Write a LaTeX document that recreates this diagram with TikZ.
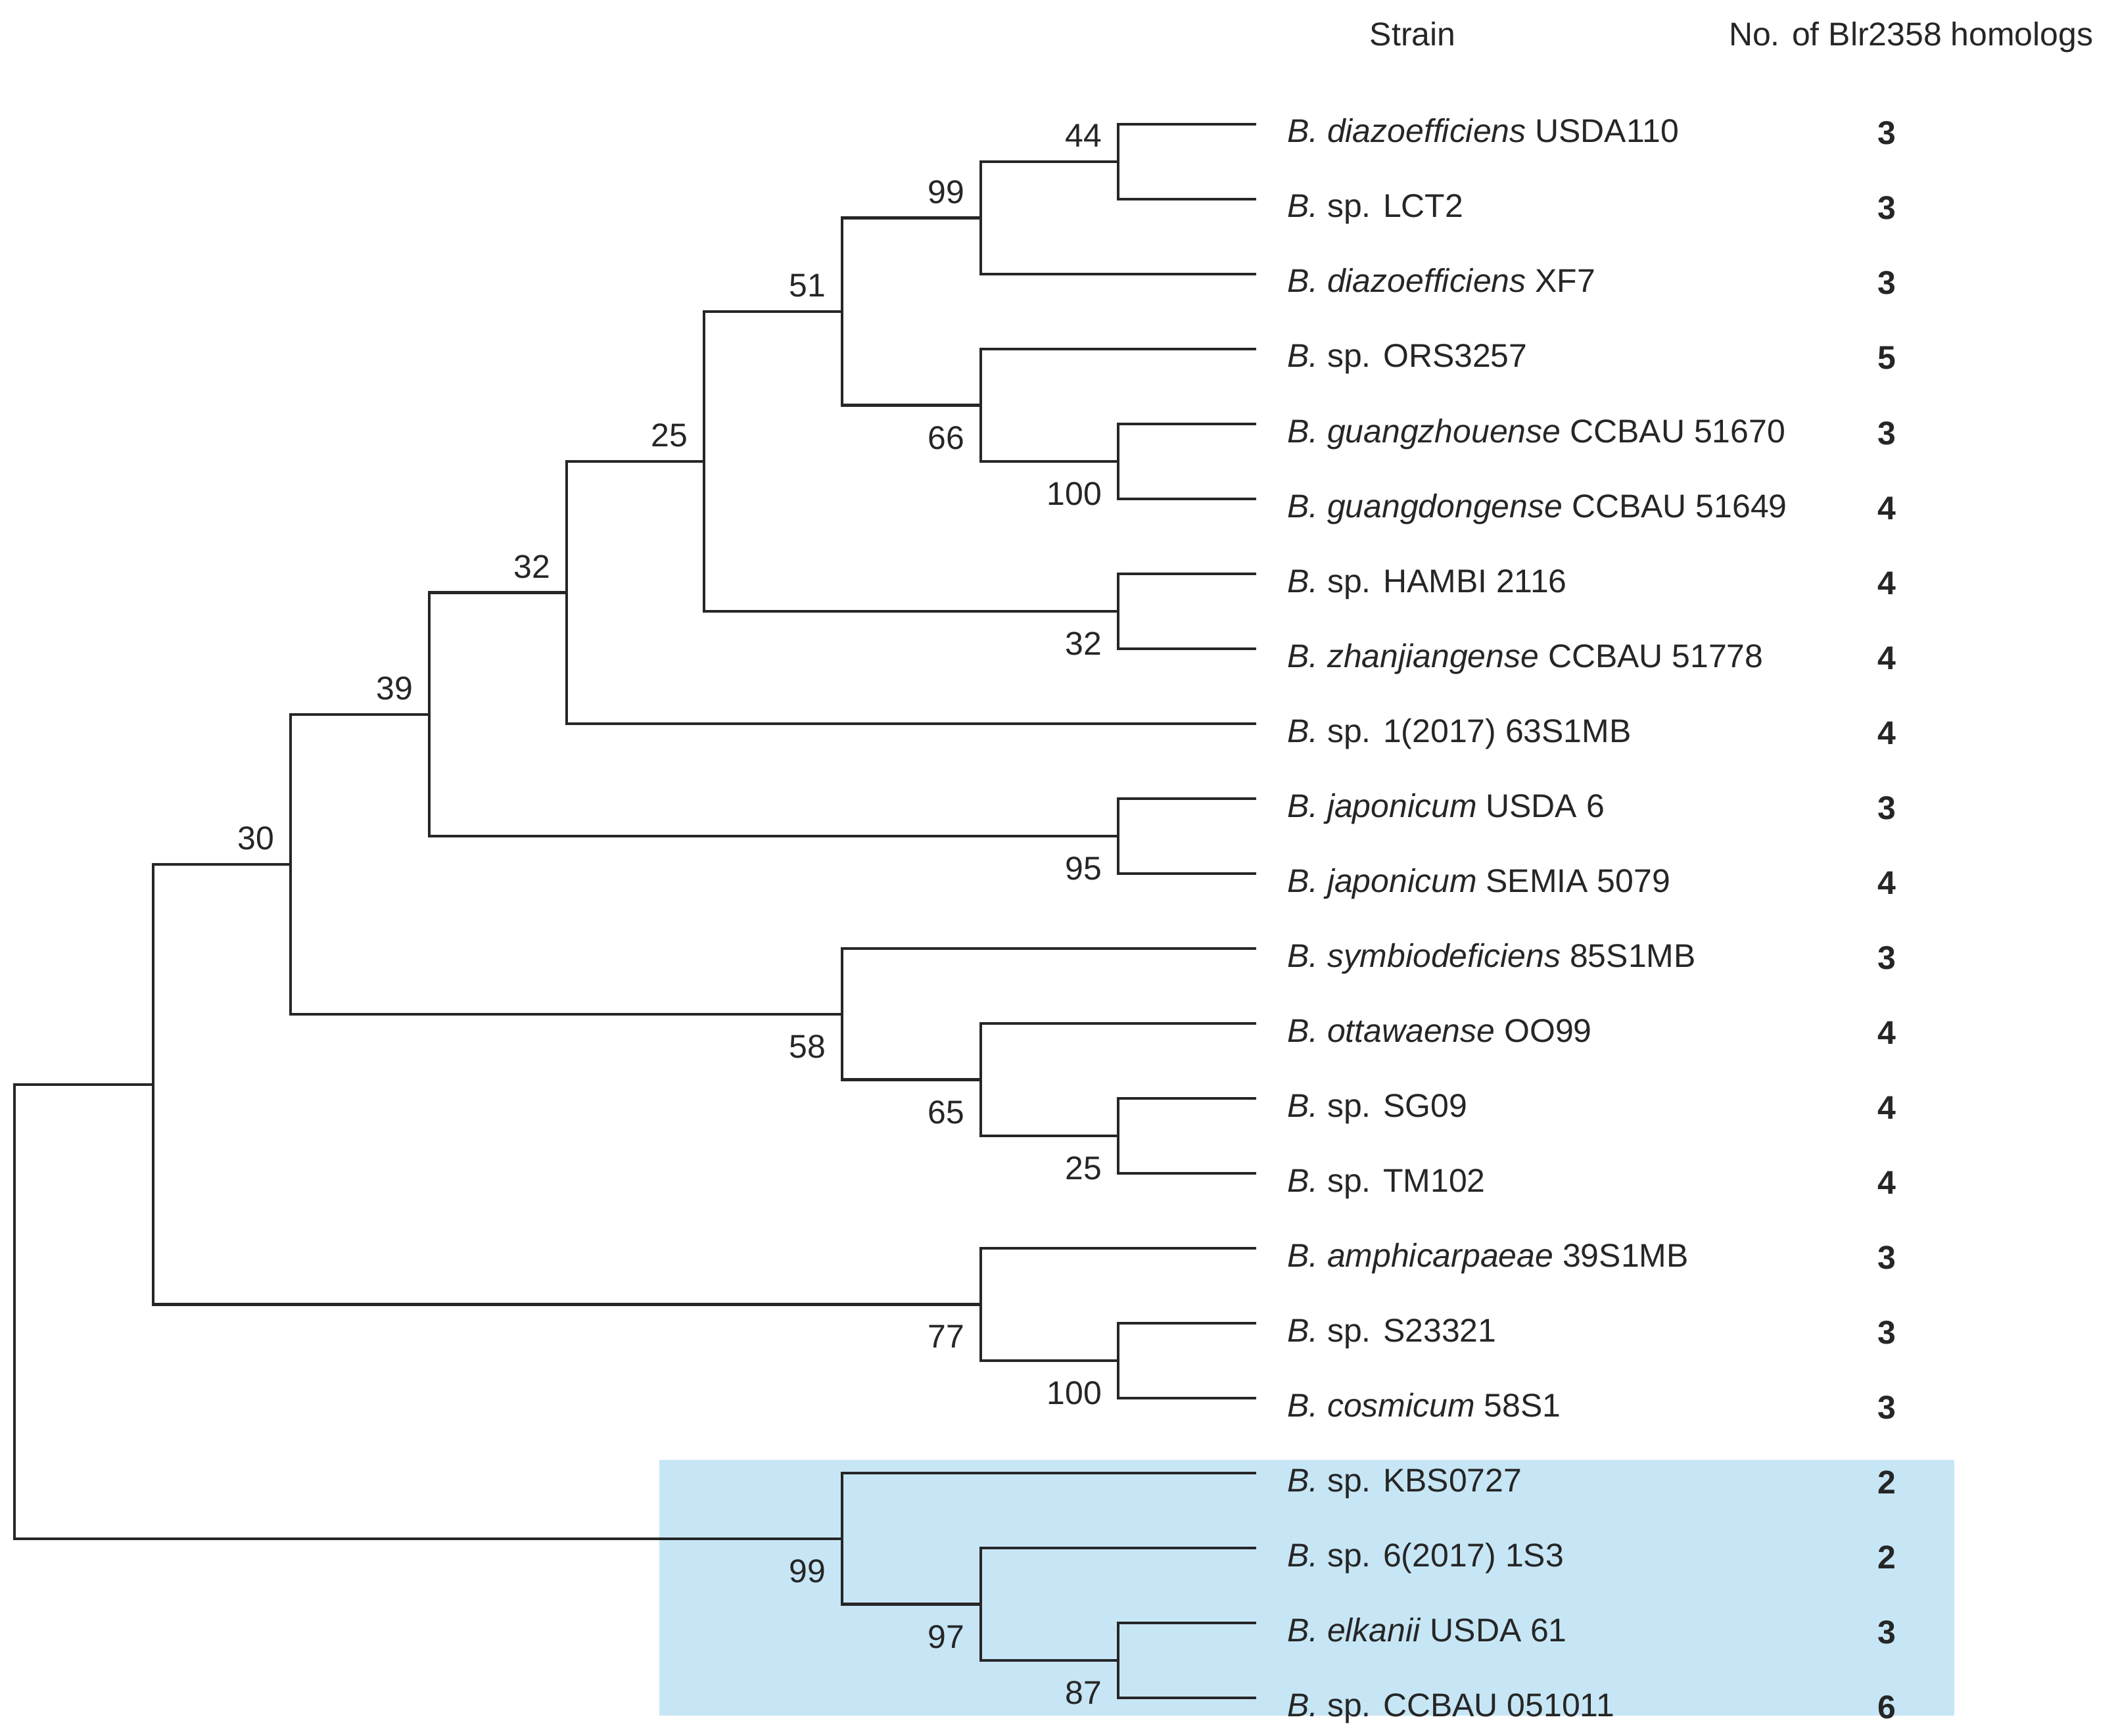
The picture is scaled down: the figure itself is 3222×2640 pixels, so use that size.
\documentclass[tikz,border=0pt]{standalone}
\usepackage{fontspec}
\setmainfont{Liberation Sans}
\usetikzlibrary{calc}
\definecolor{clade}{RGB}{199,230,245}
\definecolor{branch}{RGB}{38,38,40}
\begin{document}
\begin{tikzpicture}[x=0.01cm,y=-0.01cm,
  every node/.style={inner sep=0pt,outer sep=0pt,font=\fontsize{14.2}{17}\selectfont,text=black!85},
  br/.style={draw=branch,line width=1.2pt,line join=miter},
  leaflab/.style={anchor=base west},
  countlab/.style={anchor=base,font=\fontsize{14.2}{17}\selectfont\bfseries},
  supabove/.style={anchor=south east},
  supbelow/.style={anchor=north east}]
\useasboundingbox (0,0) rectangle (3222,2640);
\fill[white] (0,0) rectangle (3222,2640);
% highlighted clade
\fill[clade] (1003,2221) rectangle (2973,2610);
% leaves
\foreach \i in {1,...,22}{\coordinate (L\i) at (1911,{189+114*(\i-1)});}
% internal nodes
\coordinate (n44)   at (1701,246);
\coordinate (n99a)  at (1492,331.5);
\coordinate (n100a) at (1701,702);
\coordinate (n66)   at (1492,616.5);
\coordinate (n51)   at (1281,474);
\coordinate (n32a)  at (1701,930);
\coordinate (n25a)  at (1071,702);
\coordinate (n32b)  at (862,901.5);
\coordinate (n95)   at (1701,1272);
\coordinate (n39)   at (653,1086.7);
\coordinate (n25b)  at (1701,1728);
\coordinate (n65)   at (1492,1642.5);
\coordinate (n58)   at (1281,1542.7);
\coordinate (n30)   at (442,1314.7);
\coordinate (n100b) at (1701,2070);
\coordinate (n77)   at (1492,1984.5);
\coordinate (nA)    at (233,1649.6);
\coordinate (n87)   at (1701,2526);
\coordinate (n97)   at (1492,2440.5);
\coordinate (n99b)  at (1281,2340.7);
\coordinate (root)  at (22,1995);
% branches
\draw[br] (n44) |- (L1);  \draw[br] (n44) |- (L2);
\draw[br] (n99a) |- (n44); \draw[br] (n99a) |- (L3);
\draw[br] (n100a) |- (L5); \draw[br] (n100a) |- (L6);
\draw[br] (n66) |- (L4); \draw[br] (n66) |- (n100a);
\draw[br] (n51) |- (n99a); \draw[br] (n51) |- (n66);
\draw[br] (n32a) |- (L7); \draw[br] (n32a) |- (L8);
\draw[br] (n25a) |- (n51); \draw[br] (n25a) |- (n32a);
\draw[br] (n32b) |- (n25a); \draw[br] (n32b) |- (L9);
\draw[br] (n95) |- (L10); \draw[br] (n95) |- (L11);
\draw[br] (n39) |- (n32b); \draw[br] (n39) |- (n95);
\draw[br] (n25b) |- (L14); \draw[br] (n25b) |- (L15);
\draw[br] (n65) |- (L13); \draw[br] (n65) |- (n25b);
\draw[br] (n58) |- (L12); \draw[br] (n58) |- (n65);
\draw[br] (n30) |- (n39); \draw[br] (n30) |- (n58);
\draw[br] (n100b) |- (L17); \draw[br] (n100b) |- (L18);
\draw[br] (n77) |- (L16); \draw[br] (n77) |- (n100b);
\draw[br] (nA) |- (n30); \draw[br] (nA) |- (n77);
\draw[br] (n87) |- (L21); \draw[br] (n87) |- (L22);
\draw[br] (n97) |- (L20); \draw[br] (n97) |- (n87);
\draw[br] (n99b) |- (L19); \draw[br] (n99b) |- (n97);
\draw[br] (root) |- (nA); \draw[br] (root) |- (n99b);
% support values
\node[supabove] (s44)  at ($(n44)+(-25,-22)$) {44};
\node[supabove] (s99a) at ($(n99a)+(-25,-22)$) {99};
\node[supabove] (s51)  at ($(n51)+(-25,-22)$) {51};
\node[supabove] (s25a) at ($(n25a)+(-25,-22)$) {25};
\node[supabove] (s32b) at ($(n32b)+(-25,-22)$) {32};
\node[supabove] (s39)  at ($(n39)+(-25,-22)$) {39};
\node[supabove] (s30)  at ($(n30)+(-25,-22)$) {30};
\node[supbelow] (s66)   at ($(n66)+(-25,32)$) {66};
\node[supbelow] (s100a) at ($(n100a)+(-25,32)$) {100};
\node[supbelow] (s32a)  at ($(n32a)+(-25,32)$) {32};
\node[supbelow] (s95)   at ($(n95)+(-25,32)$) {95};
\node[supbelow] (s58)   at ($(n58)+(-25,32)$) {58};
\node[supbelow] (s65)   at ($(n65)+(-25,32)$) {65};
\node[supbelow] (s25b)  at ($(n25b)+(-25,32)$) {25};
\node[supbelow] (s77)   at ($(n77)+(-25,32)$) {77};
\node[supbelow] (s100b) at ($(n100b)+(-25,32)$) {100};
\node[supbelow] (s99b)  at ($(n99b)+(-25,32)$) {99};
\node[supbelow] (s97)   at ($(n97)+(-25,32)$) {97};
\node[supbelow] (s87)   at ($(n87)+(-25,32)$) {87};
% headers
\node[anchor=base] (hstrain) at (2149,70) {Strain};
\node[anchor=base west] (hcount) at (2630,70) {No. of Blr2358 homologs};
% leaf labels
\node[leaflab] (t1)  at ($(L1)+(47,28)$)  {\textit{B. diazoefficiens} USDA110};
\node[leaflab] (t2)  at ($(L2)+(47,28)$)  {\textit{B.} sp. LCT2};
\node[leaflab] (t3)  at ($(L3)+(47,28)$)  {\textit{B. diazoefficiens} XF7};
\node[leaflab] (t4)  at ($(L4)+(47,28)$)  {\textit{B.} sp. ORS3257};
\node[leaflab] (t5)  at ($(L5)+(47,28)$)  {\textit{B. guangzhouense} CCBAU 51670};
\node[leaflab] (t6)  at ($(L6)+(47,28)$)  {\textit{B. guangdongense} CCBAU 51649};
\node[leaflab] (t7)  at ($(L7)+(47,28)$)  {\textit{B.} sp. HAMBI 2116};
\node[leaflab] (t8)  at ($(L8)+(47,28)$)  {\textit{B. zhanjiangense} CCBAU 51778};
\node[leaflab] (t9)  at ($(L9)+(47,28)$)  {\textit{B.} sp. 1(2017) 63S1MB};
\node[leaflab] (t10) at ($(L10)+(47,28)$) {\textit{B. japonicum} USDA 6};
\node[leaflab] (t11) at ($(L11)+(47,28)$) {\textit{B. japonicum} SEMIA 5079};
\node[leaflab] (t12) at ($(L12)+(47,28)$) {\textit{B. symbiodeficiens} 85S1MB};
\node[leaflab] (t13) at ($(L13)+(47,28)$) {\textit{B. ottawaense} OO99};
\node[leaflab] (t14) at ($(L14)+(47,28)$) {\textit{B.} sp. SG09};
\node[leaflab] (t15) at ($(L15)+(47,28)$) {\textit{B.} sp. TM102};
\node[leaflab] (t16) at ($(L16)+(47,28)$) {\textit{B. amphicarpaeae} 39S1MB};
\node[leaflab] (t17) at ($(L17)+(47,28)$) {\textit{B.} sp. S23321};
\node[leaflab] (t18) at ($(L18)+(47,28)$) {\textit{B. cosmicum} 58S1};
\node[leaflab] (t19) at ($(L19)+(47,28)$) {\textit{B.} sp. KBS0727};
\node[leaflab] (t20) at ($(L20)+(47,28)$) {\textit{B.} sp. 6(2017) 1S3};
\node[leaflab] (t21) at ($(L21)+(47,28)$) {\textit{B. elkanii} USDA 61};
\node[leaflab] (t22) at ($(L22)+(47,28)$) {\textit{B.} sp. CCBAU 051011};
% homolog counts
\foreach \i/\n in {1/3,2/3,3/3,4/5,5/3,6/4,7/4,8/4,9/4,10/3,11/4,12/3,13/4,14/4,15/4,16/3,17/3,18/3,19/2,20/2,21/3,22/6}{
  \node[countlab] (c\i) at ($(L\i)+(959,31)$) {\n};
}
\end{tikzpicture}
\end{document}
